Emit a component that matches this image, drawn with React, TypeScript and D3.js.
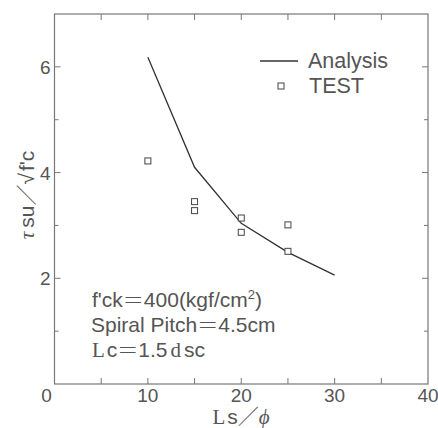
import React from "react"
import * as d3 from "d3"

// analysis curve
const analysisX = [10, 15, 20, 25, 30]
const analysisY = [6.18, 4.1, 3.04, 2.49, 2.06]

// test points
const testX = [10, 15, 15, 20, 20, 25, 25]
const testY = [4.22, 3.45, 3.28, 3.14, 2.87, 3.01, 2.51]

const xTicks = [0, 10, 20, 30, 40]
const xMinor = [5, 15, 25, 35]
const yTicks = [2, 4, 6]
const yMinor = [1, 3, 5]

const W = 438
const H = 428
const M = { left: 54.5, right: 10, top: 14, bottom: 44 }

const ink = "#555"
const sans = "Arial, 'Liberation Sans', Helvetica, sans-serif"
const serif = "'Liberation Serif', 'DejaVu Serif', serif"
const cjk = "'Noto Sans CJK JP', sans-serif"

export default function App() {
  const x = d3.scaleLinear().domain([0, 40]).range([M.left, W - M.right])
  const y = d3.scaleLinear().domain([0, 7]).range([H - M.bottom, M.top])
  const x0 = x.range()[0], x1 = x.range()[1]
  const y0 = y.range()[0], y1 = y.range()[1]

  const line = d3
    .line<number>()
    .x((_, i) => x(analysisX[i]))
    .y(d => y(d))

  const eq = <tspan fontFamily={cjk} fontWeight={300}>＝</tspan>

  return (
    <svg
      width={W}
      height={H}
      style={{ position: "fixed", left: 0, top: 0, background: "#fff" }}
    >
      <rect x={x0} y={y1} width={x1 - x0} height={y0 - y1} fill="none" stroke="#777" strokeWidth={1.2} />

      {/* inward ticks, all four sides */}
      {[...xTicks, ...xMinor].filter(t => t > 0 && t < 40).map(t => (
        <g key={"xt" + t} stroke="#777" strokeWidth={1}>
          <line x1={x(t)} x2={x(t)} y1={y0} y2={y0 - 6} />
          <line x1={x(t)} x2={x(t)} y1={y1} y2={y1 + 6} />
        </g>
      ))}
      {yTicks.map(t => (
        <g key={"yt" + t} stroke="#777" strokeWidth={1}>
          <line x1={x0} x2={x0 + 6} y1={y(t)} y2={y(t)} />
          <line x1={x1} x2={x1 - 6} y1={y(t)} y2={y(t)} />
        </g>
      ))}
      {yMinor.map(t => (
        <g key={"ym" + t} stroke="#777" strokeWidth={1}>
          <line x1={x0} x2={x0 + 4} y1={y(t)} y2={y(t)} />
          <line x1={x1} x2={x1 - 4} y1={y(t)} y2={y(t)} />
        </g>
      ))}

      {/* tick labels */}
      {xTicks.map((t, i) => (
        <text
          key={"xl" + t}
          x={x(t) + (i === 0 ? -8 : 0)}
          y={402}
          textAnchor="middle"
          fontFamily={sans}
          fontSize={19}
          fill={ink}
        >
          {t}
        </text>
      ))}
      {yTicks.map(t => (
        <text
          key={"yl" + t}
          x={x0 - 4}
          y={y(t) + 7}
          textAnchor="end"
          fontFamily={sans}
          fontSize={19}
          fill={ink}
        >
          {t}
        </text>
      ))}

      {/* axis titles */}
      <text x={241} y={424} textAnchor="middle" fontSize={21} fill={ink}>
        <tspan fontFamily={serif}>L</tspan>
        <tspan fontFamily={sans} dx={2}>s</tspan>
        <tspan fontFamily={cjk} fontWeight={300}>／</tspan>
        <tspan fontFamily={serif} fontStyle="italic">ϕ</tspan>
      </text>
      <text
        transform={`translate(34,195) rotate(-90)`}
        textAnchor="middle"
        fontSize={21}
        fill={ink}
      >
        <tspan fontFamily={serif} fontStyle="italic">τ</tspan>
        <tspan fontFamily={sans} dx={4}>su</tspan>
        <tspan fontFamily={cjk} fontWeight={300}>／</tspan>
        <tspan fontFamily={sans}>√</tspan>
        <tspan fontFamily={sans} dx={2}>f'c</tspan>
      </text>

      {/* data */}
      <path d={line(analysisY) ?? ""} fill="none" stroke="#333" strokeWidth={1.3} />
      {testY.map((v, i) => (
        <rect
          key={"p" + i}
          x={x(testX[i]) - 3}
          y={y(v) - 3}
          width={6}
          height={6}
          fill="#fff"
          stroke="#444"
          strokeWidth={1}
        />
      ))}

      {/* legend */}
      <line x1={260} x2={298} y1={61} y2={61} stroke="#333" strokeWidth={1.3} />
      <text x={308} y={68} fontFamily={sans} fontSize={21.5} fill={ink}>Analysis</text>
      <rect x={278} y={83} width={6} height={6} fill="#fff" stroke="#444" strokeWidth={1} />
      <text x={309} y={93} fontFamily={sans} fontSize={21.5} fill={ink}>TEST</text>

      {/* conditions */}
      <text x={92} y={307} fontFamily={sans} fontSize={21} fill={ink}>
        f'ck{eq}400(kgf/cm<tspan dy={-8} fontSize={13}>2</tspan><tspan dy={8}>)</tspan>
      </text>
      <text x={91} y={332} fontFamily={sans} fontSize={21} fill={ink}>
        Spiral Pitch{eq}4.5cm
      </text>
      <text x={92} y={357} fontSize={21} fill={ink}>
        <tspan fontFamily={serif}>L</tspan>
        <tspan fontFamily={sans} dx={2}>c</tspan>
        {eq}
        <tspan fontFamily={sans}>1.5</tspan>
        <tspan fontFamily={serif} dx={3}>d</tspan>
        <tspan fontFamily={sans} dx={3}>sc</tspan>
      </text>
    </svg>
  )
}
